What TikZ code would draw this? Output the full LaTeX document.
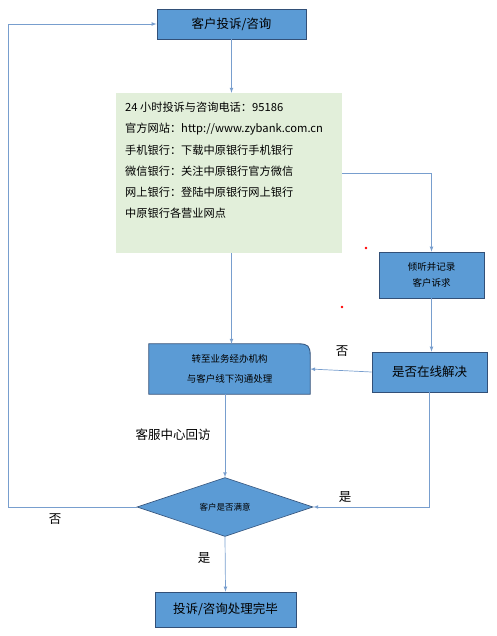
\documentclass[tikz,border=0pt]{standalone}
\usepackage{fontspec}
\setmainfont{Noto Sans CJK SC}
\usepackage{tikz}
\usetikzlibrary{shapes,arrows,positioning,calc,backgrounds}
\definecolor{boxblue}{RGB}{91,155,213}
\definecolor{edgeblue}{RGB}{50,80,120}
\definecolor{linkblue}{RGB}{120,158,206}
\definecolor{infogreen}{RGB}{226,239,218}

\begin{document}
\begin{tikzpicture}[x=1pt, y=-1pt,
        box/.style={rectangle, draw=edgeblue, line width=0.8pt, fill=boxblue, inner sep=0pt, align=center, font=\fontsize{12.5}{14}\selectfont},
        smallbox/.style={box, font=\fontsize{9.5}{16}\selectfont},
        decide/.style={diamond, draw=edgeblue, line width=0.6pt, fill=boxblue, inner sep=0pt, font=\fontsize{8.5}{10}\selectfont},
        lbl/.style={font=\fontsize{12.5}{14}\selectfont, inner sep=0pt},
        arrow/.style={->, >=latex, line width=0.7pt, linkblue}]

        \useasboundingbox (0,0) rectangle (496,636);

        \node[box, minimum width=149pt, minimum height=30pt] (ASK) at (231.5,24) {客户投诉/咨询};
        \node[fill=infogreen, minimum width=226pt, minimum height=160pt, inner sep=0pt] (INFO) at (229,173) {};
        \node[anchor=north west, align=left, inner sep=0pt, font=\fontsize{11.2}{21.2}\selectfont] (INFOTXT) at (125,102)
            {24 小时投诉与咨询电话：95186\\官方网站：http://www.zybank.com.cn\\手机银行：下载中原银行手机银行\\微信银行：关注中原银行官方微信\\网上银行：登陆中原银行网上银行\\中原银行各营业网点};
        \node[smallbox, minimum width=105pt, minimum height=46pt] (LISTEN) at (431.5,275) {倾听并记录\\客户诉求};
        \node[box, minimum width=115pt, minimum height=40pt] (ONLINE) at (429.5,372) {是否在线解决};
        \node[minimum width=161pt, minimum height=50pt, inner sep=0pt, align=center, font=\fontsize{9.5}{20}\selectfont] (DEAL) at (229.5,369) {转至业务经办机构\\与客户线下沟通处理};
        \node[decide, minimum width=176pt, minimum height=58pt] (SAT) at (225,507) {客户是否满意};
        \node[box, minimum width=141pt, minimum height=35pt] (DONE) at (225.5,609.5) {投诉/咨询处理完毕};
        \coordinate (LEFTSIDE) at (8,507);

        \begin{scope}[on background layer]
            \draw[draw=edgeblue, line width=0.8pt, fill=boxblue] (DEAL.south west) -- (DEAL.north west) -- ($(DEAL.north east)+(-12,0)$)
                .. controls ($(DEAL.north east)+(-2,0)$) and ($(DEAL.north east)+(0,2)$) .. ($(DEAL.north east)+(0,12)$) -- (DEAL.south east) -- cycle;
        \end{scope}

        \draw[arrow] (ASK.south) -- (ASK.south |- INFO.north);
        \draw[arrow] (INFO.east) -| (LISTEN.north);
        \draw[arrow] (LISTEN.south) -- (ONLINE.north -| LISTEN.south);
        \draw[arrow] (ONLINE.west) -- (DEAL.east);
        \draw[arrow] (ASK.south |- INFO.south) -- (ASK.south |- DEAL.north);
        \draw[arrow] (SAT.north |- DEAL.south) -- (SAT.north);
        \draw[arrow] (ONLINE.south) |- (SAT.east);
        \draw[arrow] (SAT.west) -- (LEFTSIDE) |- (ASK.west);
        \draw[arrow] (SAT.south) -- (DONE.north);

        \node[lbl] (NO1) at (342,351) {否};
        \node[lbl] (VISIT) at (173,435) {客服中心回访};
        \node[lbl] (YES1) at (345,497) {是};
        \node[lbl] (NO2) at (55,519) {否};
        \node[lbl] (YES2) at (204,558) {是};

        \fill[red] (366,248) circle (1.4pt);
        \fill[red] (342,307) circle (1.4pt);

    \end{tikzpicture}
\end{document}
